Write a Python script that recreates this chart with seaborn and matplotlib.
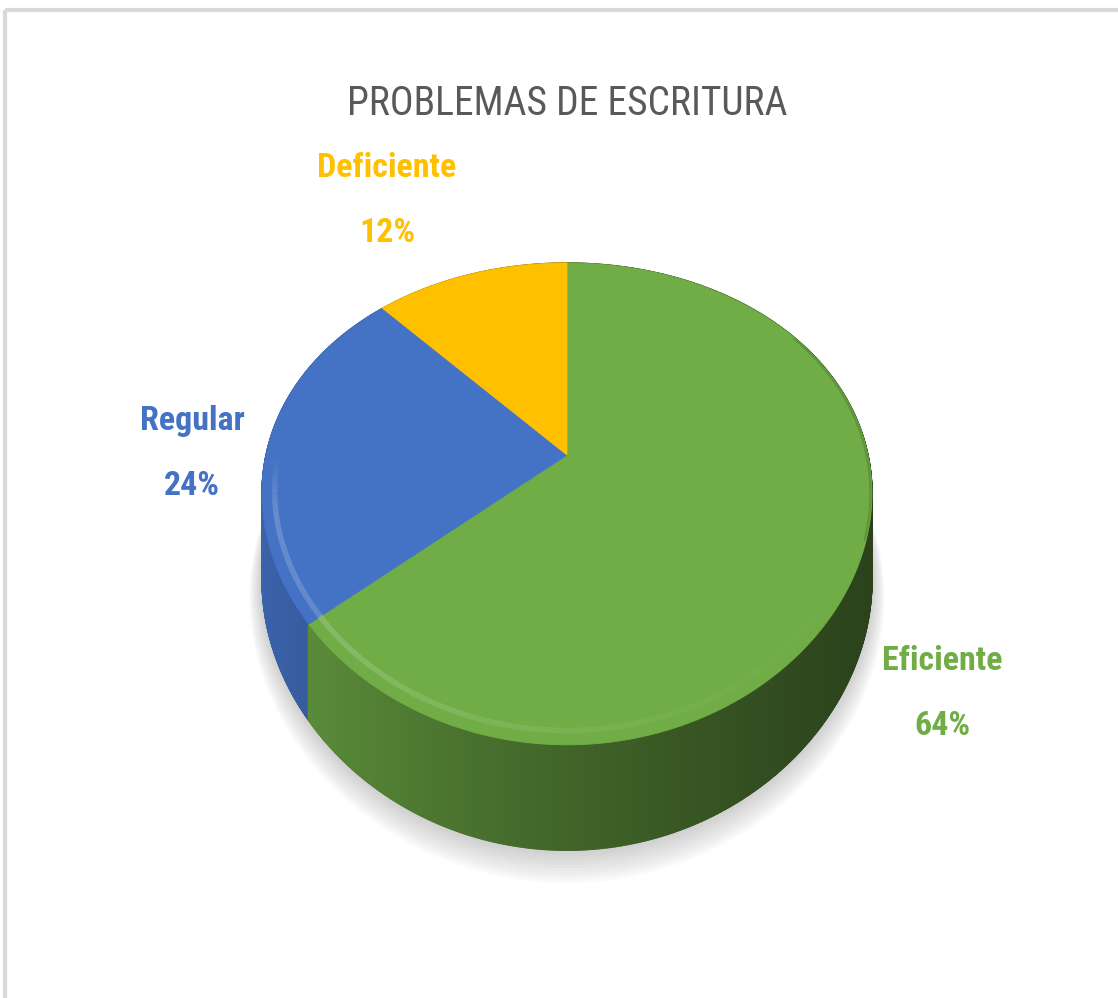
# -*- coding: utf-8 -*-
import numpy as np
import seaborn as sns
import matplotlib.pyplot as plt
from matplotlib.collections import PolyCollection, LineCollection
from matplotlib.patches import Rectangle
from matplotlib.colors import to_rgb

sns.set_theme(style="white")
plt.rcParams['font.family'] = ['Roboto Condensed', 'DejaVu Sans']

# data
titulo = "PROBLEMAS DE ESCRITURA"
categorias = ["Eficiente", "Regular", "Deficiente"]
porcentajes = [64, 24, 12]
colores = ["#70AD47", "#4472C4", "#FFC000"]

# label anchors (baseline of name, baseline of percent)
label_x = [942, 192, 387]
label_y_name = [670, 430, 177]
label_y_pct = [735, 495, 242]

# pie geometry (pixels) - vertex, radii, perspective, thickness
CX, CY = 567, 455
A, B = 301, 231
KX, KY = 0.16, 0.203
DEPTH = 84

fig = plt.figure(figsize=(11.18, 9.98), dpi=100)
ax = fig.add_axes([0, 0, 1, 1])
ax.set_xlim(0, 1118)
ax.set_ylim(998, 0)
ax.axis("off")


def proj(t, r=1.0, z=0.0):
    x = r * np.cos(t)
    y = r * np.sin(t)
    wx = 1 + KX * y
    wy = 1 + KY * y
    return CX + A * x / wx, CY - B * y / wy + DEPTH * z / wy


pal = [np.array(to_rgb(c)) for c in sns.color_palette(colores)]
cum = np.cumsum(porcentajes) / np.sum(porcentajes)


def owner(t):
    frac = ((np.pi / 2 - t) % (2 * np.pi)) / (2 * np.pi)
    return int(np.searchsorted(cum, frac, side="right"))


# chart area border
ax.add_patch(Rectangle((5, 9.5), 1200, 1100, fill=False, ec="#D9D9D9", lw=3))

# soft shadow under the pie
tt = np.linspace(0, 2 * np.pi, 400)
for s in np.linspace(0, 1, 12):
    xs, ys = proj(tt, r=1.0 + 0.04 * s, z=1.0 + 0.16 * s)
    ax.fill(xs, ys, color="#7F7F7F", alpha=0.035, lw=0)

# side wall, far segments first
edges = np.linspace(-np.pi, np.pi, 1441)
quads, cols, order = [], [], []
for ta, tb in zip(edges[:-1], edges[1:]):
    tm = (ta + tb) / 2
    xa0, ya0 = proj(ta)
    xb0, yb0 = proj(tb)
    xa1, ya1 = proj(ta, z=1)
    xb1, yb1 = proj(tb, z=1)
    quads.append([(xa0, ya0), (xb0, yb0), (xb1, yb1), (xa1, ya1)])
    u = (np.cos(tm) + 1) / 2
    f = 0.38 + 0.5 * (1 - u) ** 1.3
    cols.append(np.clip(pal[owner(tm)] * f, 0, 1))
    order.append(np.sin(tm))
idx = np.argsort(order)[::-1]
side = PolyCollection([quads[i] for i in idx], facecolors=[cols[i] for i in idx],
                      edgecolors=[cols[i] for i in idx], linewidths=1.0)
ax.add_collection(side)

# top face slices
start = 0.0
for p, c in zip(cum, pal):
    t = np.linspace(np.pi / 2 - 2 * np.pi * start, np.pi / 2 - 2 * np.pi * p, 300)
    xs, ys = proj(t)
    ax.fill(np.r_[CX, xs], np.r_[CY, ys], color=c, ec=c, lw=0.6)
    start = p

# bevel highlight along the front rim
tr = np.linspace(-np.pi - 0.05, -0.4, 500)
segs, hcols = [], []
for ta, tb in zip(tr[:-1], tr[1:]):
    tm = (ta + tb) / 2
    xa, ya = proj(ta, r=0.96)
    xb, yb = proj(tb, r=0.96)
    segs.append([(xa, ya), (xb, yb)])
    u = (np.cos(tm) + 1) / 2
    base = pal[owner(tm)]
    light = base + (1 - base) * 0.3
    a = 0.7 * (1 - u) ** 1.5 * min(1, (-np.sin(tm)) * 4)
    hcols.append((*light, max(0, min(1, a))))
ax.add_collection(LineCollection(segs, colors=hcols, linewidths=4))

# darker edge on the right of the top face
tr2 = np.linspace(-0.35, 0.6, 200)
xs, ys = proj(tr2, r=0.995)
ax.plot(xs, ys, color="#2E4A1C", alpha=0.25, lw=1.5)

# title and labels
ax.text(567, 115, titulo, ha="center", va="baseline", fontsize=28.5,
        color="#595959")
for name, p, c, x, yn, yp in zip(categorias, porcentajes, colores,
                                 label_x, label_y_name, label_y_pct):
    ax.text(x, yn, name, ha="center", va="baseline", fontsize=24.5,
            fontweight="bold", color=c)
    ax.text(x, yp, f"{p}%", ha="center", va="baseline", fontsize=24.5,
            fontweight="bold", color=c)

plt.savefig("out.png", dpi=100, facecolor="white")
